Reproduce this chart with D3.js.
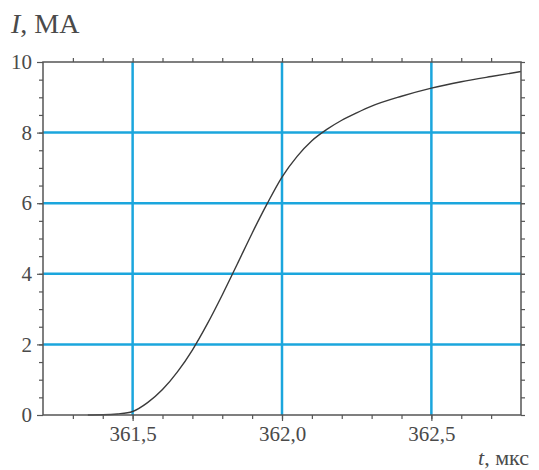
<!DOCTYPE html>
<html>
<head>
<meta charset="utf-8">
<script src="https://cdn.jsdelivr.net/npm/d3@7"></script>
<style>
  body { margin: 0; background: #fff; }
</style>
</head>
<body>
<svg id="chart" width="539" height="470"></svg>
<script>
// time, µs
const timeUs = [361.35, 361.40, 361.45, 361.50, 361.55, 361.60, 361.65, 361.70, 361.75,
  361.80, 361.85, 361.90, 361.95, 362.00, 362.05, 362.10, 362.15, 362.20, 362.25,
  362.30, 362.40, 362.50, 362.60, 362.70, 362.80];
// current, MA
const currentMA = [0.0, 0.005, 0.03, 0.1, 0.35, 0.72, 1.22, 1.84, 2.58,
  3.4, 4.27, 5.15, 5.98, 6.74, 7.32, 7.77, 8.09, 8.35, 8.56,
  8.75, 9.03, 9.26, 9.44, 9.59, 9.73];
const xTicks = [361.5, 362.0, 362.5];
const yTicks = [0, 2, 4, 6, 8, 10];

const width = 539, height = 470;
const margin = { top: 62, right: 18, bottom: 55, left: 43 };
const innerWidth = width - margin.left - margin.right;
const innerHeight = height - margin.top - margin.bottom;

const fontFamily = "Liberation Serif";

const svg = d3.select("#chart")
  .append("g")
  .attr("transform", `translate(${margin.left},${margin.top})`);

const x = d3.scaleLinear().domain([361.2, 362.8]).range([0, innerWidth]);
const y = d3.scaleLinear().domain([0, 10]).range([innerHeight, 0]);

const axisColor = "#555";
const gridColor = "#1ba6dd";
const textColor = "#4a4a4a";

// grid lines
svg.append("g")
  .selectAll("line")
  .data(yTicks.filter(d => d > 0 && d < 10))
  .join("line")
  .attr("x1", 0).attr("x2", innerWidth)
  .attr("y1", d => y(d)).attr("y2", d => y(d))
  .attr("stroke", gridColor).attr("stroke-width", 2.5);

svg.append("g")
  .selectAll("line")
  .data(xTicks)
  .join("line")
  .attr("x1", d => x(d)).attr("x2", d => x(d))
  .attr("y1", 0).attr("y2", innerHeight)
  .attr("stroke", gridColor).attr("stroke-width", 2.5);

// curve
const line = d3.line()
  .x((d, i) => x(timeUs[i]))
  .y(d => y(d))
  .curve(d3.curveMonotoneX);

svg.append("path")
  .datum(currentMA)
  .attr("fill", "none")
  .attr("stroke", "#3a3a3a")
  .attr("stroke-width", 1.4)
  .attr("d", line);

// frame
svg.append("rect")
  .attr("width", innerWidth).attr("height", innerHeight)
  .attr("fill", "none").attr("stroke", axisColor).attr("stroke-width", 1.5);

// minor + major ticks on all four sides
const xMinor = d3.range(361.3, 362.8, 0.1);
const yMinor = d3.range(0.5, 10, 0.5);

function styleAxis(g) {
  g.attr("font-family", fontFamily).attr("font-size", 21);
  g.select(".domain").remove();
  g.selectAll(".tick line").attr("stroke", axisColor).attr("stroke-width", 1.2);
  g.selectAll(".tick text")
    .attr("fill", textColor)
    .attr("font-family", fontFamily)
    .attr("font-size", 21);
}

const fmtX = d => d.toFixed(1).replace(".", ",");

svg.append("g").attr("transform", `translate(0,${innerHeight})`)
  .call(d3.axisBottom(x).tickValues(xMinor).tickSize(4).tickFormat(""))
  .call(styleAxis);
svg.append("g").attr("transform", `translate(0,${innerHeight})`)
  .call(d3.axisBottom(x).tickValues(xTicks).tickSize(6).tickPadding(5).tickFormat(fmtX))
  .call(styleAxis);

svg.append("g")
  .call(d3.axisTop(x).tickValues(xMinor).tickSize(4).tickFormat(""))
  .call(styleAxis);

svg.append("g")
  .call(d3.axisLeft(y).tickValues(yMinor).tickSize(4).tickFormat(""))
  .call(styleAxis);
svg.append("g")
  .call(d3.axisLeft(y).tickValues(yTicks).tickSize(6).tickPadding(5).tickFormat(d3.format("d")))
  .call(styleAxis);

svg.append("g").attr("transform", `translate(${innerWidth},0)`)
  .call(d3.axisRight(y).tickValues(yMinor.concat(yTicks)).tickSize(4).tickFormat(""))
  .call(styleAxis);

// axis titles
const root = d3.select("#chart");
const yTitle = root.append("text")
  .attr("x", 11).attr("y", 33)
  .attr("font-family", fontFamily)
  .attr("font-size", 28)
  .attr("fill", textColor);
yTitle.append("tspan").attr("font-style", "italic").text("I");
yTitle.append("tspan").text(", MA");

const xTitle = root.append("text")
  .attr("x", 529).attr("y", 465)
  .attr("text-anchor", "end")
  .attr("font-family", fontFamily)
  .attr("font-size", 22)
  .attr("fill", textColor);
xTitle.append("tspan").attr("font-style", "italic").text("t");
xTitle.append("tspan").text(", мкс");
</script>
</body>
</html>
